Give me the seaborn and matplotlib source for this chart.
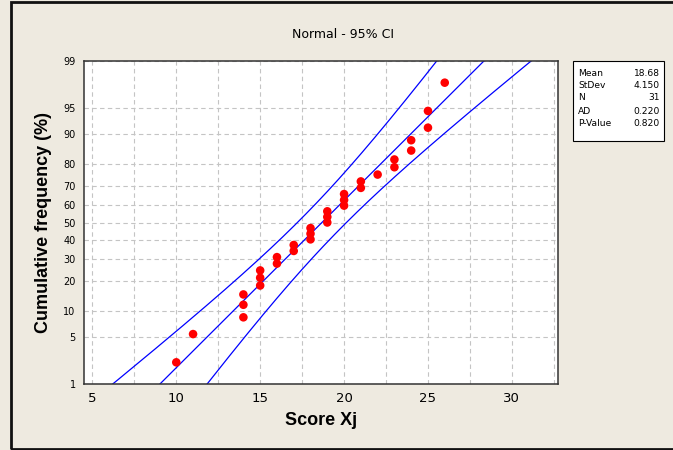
import numpy as np
import pandas as pd
import seaborn as sns
import matplotlib
matplotlib.use('Agg')
import matplotlib.pyplot as plt
from matplotlib.patches import Rectangle
from statistics import NormalDist

# sorted scores and the cumulative percentage each one is plotted at
scores = [10, 11, 14, 14, 14, 15, 15, 15, 16, 16, 17, 17, 18, 18, 18,
          19, 19, 19, 20, 20, 20, 21, 21, 22, 23, 23, 24, 24, 25, 25, 26]
cum_pct = [2.2, 5.4, 8.6, 11.8, 15.0, 18.2, 21.3, 24.5, 27.7, 30.9, 34.1,
           37.3, 40.4, 43.6, 46.8, 50.0, 53.2, 56.4, 59.6, 62.7, 65.9,
           69.1, 72.3, 75.5, 78.7, 81.8, 85.0, 88.2, 91.4, 94.6, 97.8]

# summary box
stat_names = ['Mean', 'StDev', 'N', 'AD', 'P-Value']
stat_values = ['18.68', '4.150', '31', '0.220', '0.820']
mean, sd, n = 18.68, 4.150, 31

x_ticks = [5, 10, 15, 20, 25, 30]
y_ticks = [1, 5, 10, 20, 30, 40, 50, 60, 70, 80, 90, 95, 99]

nd = NormalDist()


def to_z(p):
    p = np.clip(np.asarray(p, dtype=float) / 100.0, 1e-9, 1 - 1e-9)
    return np.vectorize(nd.inv_cdf, otypes=[float])(p)


def from_z(z):
    return np.vectorize(nd.cdf, otypes=[float])(np.asarray(z, dtype=float)) * 100.0


# fitted normal line and 95% CI for the percentiles
p_line = np.linspace(0.2, 99.8, 400)
z = to_z(p_line)
fit_x = mean + sd * z
half = 1.96 * sd * np.sqrt(1 / n + z ** 2 / (2 * n))
lines = pd.DataFrame({'p': np.tile(p_line, 3),
                      'x': np.concatenate([fit_x - half, fit_x, fit_x + half]),
                      'which': np.repeat(['lo', 'fit', 'hi'], len(p_line))})
pts = pd.DataFrame({'score': scores, 'pct': cum_pct})

sns.set_style('white')
plt.rcParams['font.family'] = ['DejaVu Sans']
plt.rcParams.update({'text.color': 'black', 'axes.labelcolor': 'black',
                     'xtick.color': 'black', 'ytick.color': 'black'})

bg = '#EEEAE0'
fig = plt.figure(figsize=(6.73, 4.5), dpi=100, facecolor=bg)
ax = fig.add_axes([84 / 673, 66 / 450, 474 / 673, 323 / 450])
ax.set_facecolor('white')

for key in ['lo', 'fit', 'hi']:
    sns.lineplot(data=lines[lines['which'] == key], x='x', y='p', ax=ax,
                 color='#0000FF', lw=0.9, sort=False, estimator=None, zorder=2)
sns.scatterplot(data=pts, x='score', y='pct', ax=ax, color='#FF0000',
                s=38, edgecolor='none', zorder=3)

ax.set_yscale('function', functions=(to_z, from_z))
ax.set_ylim(1, 99)
ax.set_xlim(4.5, 32.75)

ax.set_xticks(x_ticks)
ax.set_xticks(np.arange(7.5, 33, 5), minor=True)
ax.set_yticks(y_ticks)
ax.set_yticks([], minor=True)
ax.set_yticklabels([str(t) for t in y_ticks], fontsize=7)
ax.set_xticklabels([str(t) for t in x_ticks], fontsize=9.5)
ax.tick_params(axis='x', which='major', direction='out', length=3, width=0.8,
               color='#222222', pad=3)
ax.tick_params(axis='y', which='major', direction='out', length=4.5, width=0.8,
               color='#222222', pad=1.5)
ax.tick_params(which='minor', length=0)

ax.grid(True, axis='x', which='both', color='#C4C4C4', lw=0.8, ls=(0, (4, 3)))
ax.grid(True, axis='y', which='major', color='#C4C4C4', lw=0.8, ls=(0, (4, 3)))
ax.set_axisbelow(True)
for s in ax.spines.values():
    s.set_color('#333333')
    s.set_linewidth(1.1)

ax.set_xlabel('Score Xj', fontsize=13, fontweight='bold',
              family='Liberation Sans', labelpad=5)
ax.set_ylabel('Cumulative frequency (%)', fontsize=13, fontweight='bold',
              family='Liberation Sans', labelpad=8)

fig.text(0.51, 1 - 35 / 450, 'Normal - 95% CI', ha='center', va='center',
         fontsize=9)

# statistics box
fig.patches.append(Rectangle((573 / 673, 1 - 141 / 450), 91 / 673, 80 / 450,
                             transform=fig.transFigure, facecolor='white',
                             edgecolor='black', lw=0.8))
row_y = [74, 86, 98, 111, 123]
for name, val, yy in zip(stat_names, stat_values, row_y):
    fig.text(578 / 673, 1 - yy / 450, name, ha='left', va='center', fontsize=6.6)
    fig.text(660 / 673, 1 - yy / 450, val, ha='right', va='center', fontsize=6.6)

# outer frame of the graph window (right side is cut off)
fig.patches.append(Rectangle((10.5 / 673, 1.5 / 450), 1.0, 1 - 3 / 450,
                             transform=fig.transFigure, fill=False,
                             edgecolor='#111111', lw=2))

fig.savefig('out.png', dpi=100, facecolor=bg)
